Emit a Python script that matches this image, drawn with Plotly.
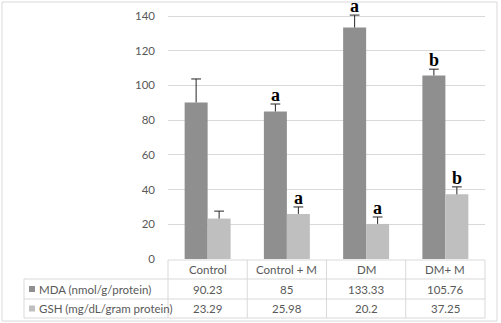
import plotly.graph_objects as go

categories = ["Control", "Control + M", "DM", "DM+ M"]
mda_name = "MDA (nmol/g/protein)"
gsh_name = "GSH (mg/dL/gram protein)"
mda = [90.23, 85, 133.33, 105.76]
gsh = [23.29, 25.98, 20.2, 37.25]
mda_err = [13.5, 4.3, 7.2, 3.6]
gsh_err = [4.3, 4.0, 4.0, 4.3]
mda_letters = ["", "a", "a", "b"]
gsh_letters = ["", "a", "a", "b"]
mda_labels = ["90.23", "85", "133.33", "105.76"]
gsh_labels = ["23.29", "25.98", "20.2", "37.25"]
yticks = [0, 20, 40, 60, 80, 100, 120, 140]

W, H = 501, 323
MDA_COL = "#8f8f8f"
GSH_COL = "#bfbfbf"
TXT = "#595959"
LINE = "#d9d9d9"
ERR = "#262626"
FONT = "Lato"

def px(x):
    return x / W

def py(y):
    return 1 - y / H

x_left, x_right = 168, 485
y_top, y_zero = 16, 259
YMAX = 148
unit = (y_zero - y_top) / 140.0
y_dom_top = y_zero - YMAX * unit
BW = 0.29
idx = list(range(len(categories)))
mda_x = [i - BW / 2 for i in idx]
gsh_x = [i + BW / 2 for i in idx]

fig = go.Figure()
fig.add_trace(go.Bar(x=mda_x, y=mda, width=BW, name=mda_name, marker=dict(color=MDA_COL, line=dict(width=0))))
fig.add_trace(go.Bar(x=gsh_x, y=gsh, width=BW, name=gsh_name, marker=dict(color=GSH_COL, line=dict(width=0))))

def err_trace(xs, vals, errs):
    lx, ly = [], []
    for x, v, e in zip(xs, vals, errs):
        lx += [x, x, None]
        ly += [v, v + e, None]
    fig.add_trace(go.Scatter(x=lx, y=ly, mode="lines", line=dict(color=ERR, width=1),
                             hoverinfo="skip", cliponaxis=False))
    fig.add_trace(go.Scatter(x=xs, y=[v + e for v, e in zip(vals, errs)], mode="markers",
                             marker=dict(symbol="line-ew", size=7, line=dict(color=ERR, width=1)),
                             hoverinfo="skip", cliponaxis=False))

err_trace(mda_x, mda, mda_err)
err_trace(gsh_x, gsh, gsh_err)

for xs, vals, errs, letters in [(mda_x, mda, mda_err, mda_letters), (gsh_x, gsh, gsh_err, gsh_letters)]:
    for x, v, e, t in zip(xs, vals, errs, letters):
        if t:
            fig.add_annotation(x=x, y=v + e, text=t, showarrow=False, xanchor="center", yanchor="bottom",
                               yshift=-3,
                               font=dict(family="Liberation Serif", size=18, color="#000000", weight="bold"))

shapes = []
shapes.append(dict(type="rect", xref="paper", yref="paper", x0=px(2), x1=px(497), y0=py(321), y1=py(2),
                   line=dict(color=LINE, width=1), fillcolor="rgba(0,0,0,0)", layer="below"))
col_x = [x_left + k * (x_right - x_left) / 4 for k in range(5)]
row_y = [260, 279, 299, 318]
shapes.append(dict(type="line", xref="paper", yref="paper", x0=px(x_left), x1=px(x_right), y0=py(260), y1=py(260),
                   line=dict(color=LINE, width=1)))
for ry in row_y[1:]:
    shapes.append(dict(type="line", xref="paper", yref="paper", x0=px(24), x1=px(x_right), y0=py(ry), y1=py(ry),
                       line=dict(color=LINE, width=1)))
for cx in col_x:
    shapes.append(dict(type="line", xref="paper", yref="paper", x0=px(cx), x1=px(cx), y0=py(260), y1=py(318),
                       line=dict(color=LINE, width=1)))
shapes.append(dict(type="line", xref="paper", yref="paper", x0=px(24), x1=px(24), y0=py(279), y1=py(318),
                   line=dict(color=LINE, width=1)))
for ry, col in [(289, MDA_COL), (308.5, GSH_COL)]:
    shapes.append(dict(type="rect", xref="paper", yref="paper", x0=px(29), x1=px(35), y0=py(ry + 3), y1=py(ry - 3),
                       line=dict(width=0), fillcolor=col))

tf = dict(family=FONT, size=11.5, color=TXT)
for k, c in enumerate(categories):
    cx = (col_x[k] + col_x[k + 1]) / 2
    for ty, t in [(269.5, c), (289, mda_labels[k]), (308.5, gsh_labels[k])]:
        fig.add_annotation(xref="paper", yref="paper", x=px(cx), y=py(ty), text=t, showarrow=False,
                           xanchor="center", yanchor="middle", font=tf)
fig.add_annotation(xref="paper", yref="paper", x=px(37), y=py(289), text=mda_name, showarrow=False,
                   xanchor="left", yanchor="middle", font=tf)
fig.add_annotation(xref="paper", yref="paper", x=px(37), y=py(308.5), text=gsh_name, showarrow=False,
                   xanchor="left", yanchor="middle", font=tf)

fig.update_layout(
    width=W, height=H, margin=dict(l=0, r=0, t=0, b=0, pad=0, autoexpand=False),
    paper_bgcolor="white", plot_bgcolor="white",
    showlegend=False, shapes=shapes,
    xaxis=dict(domain=[px(x_left), px(x_right)], range=[-0.5, 3.5], showticklabels=False, showgrid=False,
               showline=False, zeroline=False, fixedrange=True, automargin=False),
    yaxis=dict(domain=[py(y_zero), py(y_dom_top)], range=[0, YMAX], tickvals=yticks,
               showgrid=True, gridcolor=LINE, gridwidth=1, zeroline=False, showline=False, automargin=False,
               tickfont=dict(family=FONT, size=11.5, color=TXT), ticklabelstandoff=12, fixedrange=True),
    font=dict(family=FONT),
)

fig.write_html("out.html", config={"displayModeBar": False},
               post_script="document.body.style.margin='0';document.body.style.overflow='hidden';"
                           "document.documentElement.style.overflow='hidden';")
